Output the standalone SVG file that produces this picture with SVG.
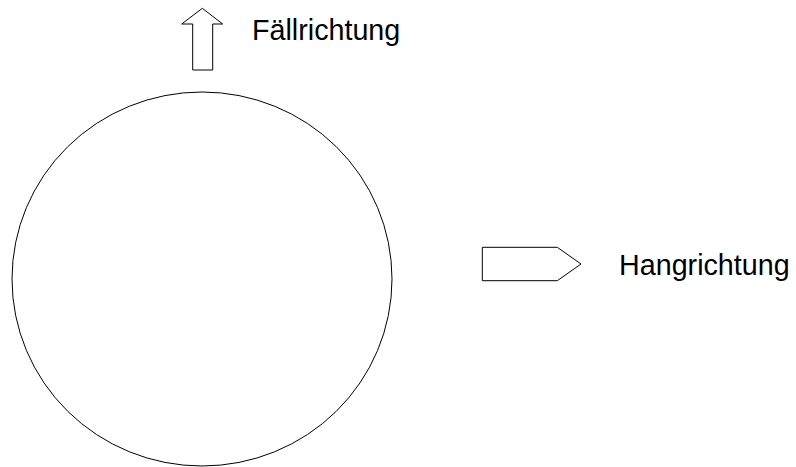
<svg xmlns="http://www.w3.org/2000/svg" width="796" height="467" viewBox="0 0 796 467">
<style>
.s{fill:#fff;stroke:#000;stroke-width:1}
.t{font-family:"Liberation Sans",Arial,sans-serif;font-size:28.7px;fill:#000}
</style>
<rect width="796" height="467" fill="#fff"/>
<g id="circle"><ellipse class="s" cx="202" cy="279" rx="190" ry="187"/></g>
<g id="fall">
<path class="s" d="M202.3,8.3 L222.7,24 L212.7,24 L212.7,70 L192.7,70 L192.7,24 L181.7,24 Z"/>
<text class="t" x="252" y="39.5">Fällrichtung</text>
</g>
<g id="hang">
<path class="s" d="M482.3,247.3 L557.3,247.3 L581,264 L557.3,280.7 L482.3,280.7 Z"/>
<text class="t" x="619" y="275">Hangrichtung</text>
</g>
</svg>
